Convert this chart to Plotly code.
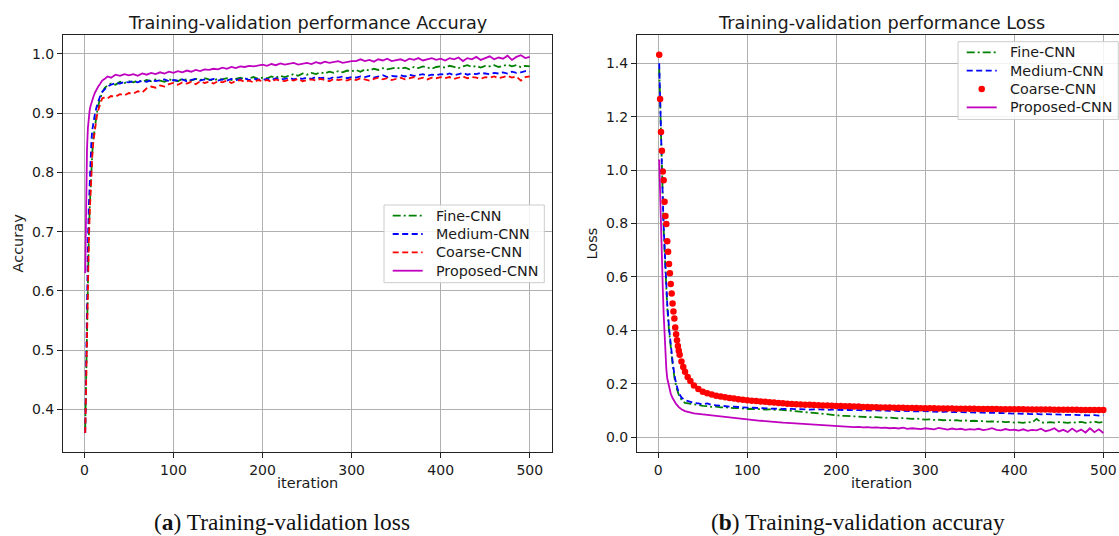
import plotly.graph_objects as go

W, H = 1119, 536

# ---------------- data ----------------
X_EARLY = [1, 2, 3, 4, 5, 6, 7, 8, 9, 10, 12, 14, 16, 18, 20, 23, 26, 30, 35, 40, 45, 50]
X_LATE = [55, 60, 65, 70, 75, 80, 85, 90, 95, 100,
          105, 110, 115, 120, 125, 130, 135, 140, 145, 150,
          155, 160, 165, 170, 175, 180, 185, 190, 195, 200,
          205, 210, 215, 220, 225, 230, 235, 240, 245, 250,
          255, 260, 265, 270, 275, 280, 285, 290, 295, 300,
          305, 310, 315, 320, 325, 330, 335, 340, 345, 350,
          355, 360, 365, 370, 375, 380, 385, 390, 395, 400,
          405, 410, 415, 420, 425, 430, 435, 440, 445, 450,
          455, 460, 465, 470, 475, 480, 485, 490, 495, 500]
ITER = X_EARLY + X_LATE
ITER_COARSE_LOSS = [1, 2, 3, 4, 5, 6, 7, 8, 9, 10, 11, 12, 13, 14, 15, 16, 17, 18, 19, 20,
                    21, 22, 23, 24, 26, 28, 30, 33, 36, 40, 45, 50] + X_LATE

# Accuracy (left panel)
ACC_FINE = [0.37, 0.47, 0.56, 0.63, 0.69, 0.74, 0.78, 0.81, 0.835, 0.855, 0.88, 0.90, 0.915,
            0.925, 0.935, 0.943, 0.947, 0.950, 0.948, 0.953, 0.951, 0.954] + [
    0.952, 0.955, 0.953, 0.956, 0.954, 0.957, 0.955, 0.953, 0.957, 0.956,
    0.954, 0.958, 0.956, 0.955, 0.958, 0.956, 0.959, 0.957, 0.955, 0.958,
    0.957, 0.959, 0.956, 0.958, 0.960, 0.957, 0.959, 0.961, 0.958, 0.960,
    0.959, 0.962, 0.960, 0.963, 0.961, 0.964, 0.966, 0.963, 0.967, 0.965,
    0.968, 0.966, 0.969, 0.967, 0.970, 0.968, 0.971, 0.969, 0.972, 0.971,
    0.973, 0.970, 0.974, 0.972, 0.975, 0.973, 0.976, 0.974, 0.975, 0.977,
    0.975, 0.977, 0.974, 0.978, 0.976, 0.979, 0.977, 0.975, 0.978, 0.979,
    0.977, 0.980, 0.978, 0.976, 0.979, 0.981, 0.978, 0.980, 0.977, 0.980,
    0.979, 0.981, 0.978, 0.980, 0.982, 0.979, 0.981, 0.978, 0.980, 0.979]
ACC_MEDIUM = [0.36, 0.50, 0.60, 0.68, 0.74, 0.79, 0.83, 0.855, 0.872, 0.885, 0.90, 0.912, 0.922,
              0.930, 0.936, 0.941, 0.945, 0.948, 0.951, 0.950, 0.953, 0.952] + [
    0.954, 0.952, 0.955, 0.953, 0.956, 0.954, 0.955, 0.957, 0.954, 0.956,
    0.955, 0.957, 0.954, 0.956, 0.958, 0.955, 0.957, 0.956, 0.958, 0.955,
    0.957, 0.955, 0.958, 0.956, 0.957, 0.959, 0.956, 0.958, 0.957, 0.956,
    0.958, 0.956, 0.959, 0.957, 0.958, 0.960, 0.957, 0.959, 0.958, 0.960,
    0.958, 0.961, 0.959, 0.960, 0.958, 0.961, 0.960, 0.962, 0.959, 0.961,
    0.960, 0.962, 0.961, 0.963, 0.960, 0.962, 0.964, 0.961, 0.963, 0.962,
    0.964, 0.962, 0.965, 0.963, 0.964, 0.966, 0.963, 0.965, 0.964, 0.966,
    0.965, 0.967, 0.964, 0.966, 0.968, 0.965, 0.967, 0.966, 0.968, 0.967,
    0.966, 0.968, 0.967, 0.969, 0.967, 0.970, 0.968, 0.969, 0.971, 0.970]
ACC_COARSE = [0.36, 0.45, 0.55, 0.62, 0.68, 0.73, 0.77, 0.80, 0.83, 0.85, 0.875, 0.895, 0.907,
              0.918, 0.925, 0.927, 0.925, 0.929, 0.928, 0.932, 0.930, 0.934] + [
    0.933, 0.937, 0.935, 0.942, 0.945, 0.943, 0.947, 0.945, 0.949, 0.951,
    0.948, 0.952, 0.950, 0.953, 0.949, 0.954, 0.951, 0.953, 0.950, 0.954,
    0.952, 0.955, 0.951, 0.954, 0.956, 0.953, 0.955, 0.952, 0.956, 0.954,
    0.956, 0.953, 0.957, 0.955, 0.954, 0.957, 0.955, 0.958, 0.954, 0.956,
    0.957, 0.955, 0.958, 0.956, 0.954, 0.958, 0.956, 0.957, 0.955, 0.958,
    0.956, 0.959, 0.957, 0.955, 0.958, 0.960, 0.957, 0.959, 0.956, 0.958,
    0.960, 0.957, 0.959, 0.961, 0.958, 0.960, 0.957, 0.960, 0.959, 0.961,
    0.959, 0.961, 0.958, 0.960, 0.962, 0.959, 0.961, 0.960, 0.958, 0.961,
    0.960, 0.962, 0.959, 0.961, 0.963, 0.960, 0.962, 0.955, 0.961, 0.962]
ACC_PROPOSED = [0.63, 0.77, 0.84, 0.875, 0.893, 0.905, 0.912, 0.918, 0.922, 0.927, 0.935, 0.941,
                0.946, 0.950, 0.955, 0.958, 0.962, 0.960, 0.965, 0.963, 0.966, 0.964] + [
    0.966, 0.963, 0.967, 0.965, 0.968, 0.966, 0.969, 0.967, 0.970, 0.968,
    0.971, 0.969, 0.972, 0.970, 0.973, 0.971, 0.974, 0.973, 0.975, 0.974,
    0.977, 0.975, 0.978, 0.976, 0.979, 0.978, 0.980, 0.979, 0.981, 0.982,
    0.980, 0.983, 0.981, 0.984, 0.982, 0.983, 0.985, 0.982, 0.984, 0.985,
    0.983, 0.986, 0.984, 0.987, 0.985, 0.986, 0.988, 0.985, 0.987, 0.988,
    0.988, 0.991, 0.988, 0.990, 0.987, 0.991, 0.989, 0.992, 0.988, 0.990,
    0.991, 0.988, 0.992, 0.990, 0.993, 0.989, 0.991, 0.993, 0.990, 0.992,
    0.989, 0.993, 0.991, 0.994, 0.988, 0.993, 0.991, 0.995, 0.990, 0.993,
    0.996, 0.991, 0.994, 0.992, 0.997, 0.990, 0.995, 0.998, 0.993, 0.995]

# Loss (right panel)
LOSS_FINE = [1.38, 1.24, 1.11, 0.99, 0.88, 0.78, 0.70, 0.62, 0.55, 0.49, 0.40, 0.33, 0.275,
             0.225, 0.19, 0.158, 0.14, 0.128, 0.125, 0.121, 0.119, 0.117] + [
    0.116, 0.113, 0.114, 0.111, 0.112, 0.110, 0.108, 0.109, 0.106, 0.105,
    0.106, 0.104, 0.105, 0.103, 0.104, 0.102, 0.103, 0.101, 0.100, 0.098,
    0.097, 0.095, 0.093, 0.092, 0.090, 0.088, 0.087, 0.085, 0.083, 0.081,
    0.080, 0.079, 0.078, 0.077, 0.076, 0.077, 0.075, 0.074, 0.075, 0.073,
    0.072, 0.073, 0.071, 0.070, 0.071, 0.069, 0.068, 0.069, 0.066, 0.065,
    0.066, 0.064, 0.065, 0.063, 0.064, 0.062, 0.063, 0.061, 0.062, 0.060,
    0.061, 0.059, 0.060, 0.058, 0.059, 0.057, 0.058, 0.056, 0.057, 0.054,
    0.055, 0.053, 0.056, 0.054, 0.068, 0.055, 0.053, 0.056, 0.054, 0.056,
    0.055, 0.053, 0.056, 0.054, 0.057, 0.053, 0.055, 0.058, 0.054, 0.056]
LOSS_MEDIUM = [1.40, 1.25, 1.12, 1.00, 0.89, 0.79, 0.71, 0.63, 0.56, 0.50, 0.41, 0.34, 0.285,
               0.235, 0.20, 0.165, 0.148, 0.138, 0.132, 0.128, 0.126, 0.122] + [
    0.126, 0.120, 0.119, 0.117, 0.116, 0.114, 0.114, 0.112, 0.111, 0.110,
    0.110, 0.109, 0.108, 0.108, 0.107, 0.106, 0.107, 0.105, 0.106, 0.105,
    0.104, 0.105, 0.104, 0.103, 0.104, 0.103, 0.103, 0.102, 0.103, 0.102,
    0.102, 0.101, 0.102, 0.100, 0.101, 0.100, 0.100, 0.099, 0.100, 0.099,
    0.099, 0.098, 0.099, 0.097, 0.098, 0.097, 0.097, 0.096, 0.097, 0.096,
    0.096, 0.095, 0.095, 0.094, 0.095, 0.093, 0.094, 0.093, 0.093, 0.092,
    0.092, 0.091, 0.092, 0.090, 0.091, 0.090, 0.090, 0.089, 0.089, 0.088,
    0.088, 0.087, 0.087, 0.086, 0.087, 0.085, 0.086, 0.085, 0.084, 0.084,
    0.084, 0.083, 0.083, 0.082, 0.083, 0.082, 0.081, 0.082, 0.080, 0.081]
LOSS_COARSE = [1.432, 1.266, 1.143, 1.072, 0.995, 0.962, 0.881, 0.828, 0.798, 0.733, 0.694, 0.648,
               0.614, 0.573, 0.538, 0.500, 0.470, 0.444, 0.410, 0.385, 0.363, 0.341, 0.323, 0.308,
               0.283, 0.262, 0.245, 0.225, 0.210, 0.193, 0.180, 0.170] + [
    0.164, 0.159, 0.155, 0.152, 0.149, 0.146, 0.144, 0.142, 0.140, 0.138,
    0.136, 0.135, 0.133, 0.132, 0.130, 0.129, 0.128, 0.127, 0.125, 0.124,
    0.123, 0.122, 0.121, 0.121, 0.120, 0.119, 0.118, 0.118, 0.117, 0.116,
    0.116, 0.115, 0.115, 0.114, 0.114, 0.113, 0.113, 0.112, 0.112, 0.111,
    0.111, 0.111, 0.110, 0.110, 0.110, 0.109, 0.109, 0.109, 0.108, 0.108,
    0.108, 0.108, 0.107, 0.107, 0.107, 0.107, 0.106, 0.106, 0.106, 0.106,
    0.106, 0.105, 0.105, 0.105, 0.105, 0.105, 0.104, 0.104, 0.104, 0.104,
    0.104, 0.104, 0.103, 0.103, 0.103, 0.103, 0.103, 0.103, 0.102, 0.102,
    0.102, 0.102, 0.102, 0.102, 0.101, 0.101, 0.101, 0.101, 0.101, 0.101]
LOSS_PROPOSED = [1.04, 0.90, 0.78, 0.67, 0.56, 0.46, 0.37, 0.30, 0.255, 0.22, 0.185, 0.162, 0.146,
                 0.134, 0.124, 0.112, 0.104, 0.097, 0.092, 0.089, 0.087, 0.085] + [
    0.083, 0.081, 0.080, 0.078, 0.077, 0.075, 0.073, 0.071, 0.068, 0.066,
    0.064, 0.063, 0.061, 0.060, 0.058, 0.057, 0.056, 0.054, 0.053, 0.052,
    0.050, 0.049, 0.047, 0.047, 0.045, 0.044, 0.043, 0.042, 0.041, 0.040,
    0.039, 0.040, 0.038, 0.037, 0.038, 0.036, 0.037, 0.035, 0.036, 0.034,
    0.035, 0.033, 0.034, 0.032, 0.035, 0.031, 0.033, 0.032, 0.030, 0.033,
    0.031, 0.029, 0.034, 0.030, 0.028, 0.032, 0.029, 0.031, 0.027, 0.030,
    0.028, 0.031, 0.026, 0.029, 0.033, 0.027, 0.025, 0.030, 0.026, 0.028,
    0.024, 0.029, 0.023, 0.027, 0.025, 0.031, 0.022, 0.026, 0.033, 0.021,
    0.027, 0.019, 0.032, 0.020, 0.028, 0.017, 0.033, 0.018, 0.029, 0.015]

for s in (ACC_FINE, ACC_MEDIUM, ACC_COARSE, ACC_PROPOSED, LOSS_FINE, LOSS_MEDIUM, LOSS_PROPOSED):
    assert len(s) == len(ITER), len(s)
assert len(LOSS_COARSE) == len(ITER_COARSE_LOSS)

NAMES = ["Fine-CNN", "Medium-CNN", "Coarse-CNN", "Proposed-CNN"]
X_TICKS = [0, 100, 200, 300, 400, 500]
ACC_TICKS = [0.4, 0.5, 0.6, 0.7, 0.8, 0.9, 1.0]
LOSS_TICKS = [0.0, 0.2, 0.4, 0.6, 0.8, 1.0, 1.2, 1.4]

# ---------------- styling ----------------
GREEN, BLUE, RED, MAGENTA = "#008000", "#0000ff", "#ff0000", "#bf00bf"
LW = 1.8
DASH = "6px,3.5px"
DASHDOT = "8px,3px,2px,3px"
FONT = "DejaVu Sans"
TXT = "#1a1a1a"
DOT_SIZE = 6.5


def px(x):
    return x / W


def py(y):
    return 1 - y / H


fig = go.Figure()

acc_specs = [(ACC_FINE, GREEN, DASHDOT), (ACC_MEDIUM, BLUE, DASH),
             (ACC_COARSE, RED, DASH), (ACC_PROPOSED, MAGENTA, "solid")]
for name, (vals, col, dash) in zip(NAMES, acc_specs):
    fig.add_trace(go.Scatter(x=ITER, y=vals, name=name, mode="lines",
                             line=dict(color=col, width=LW, dash=dash),
                             xaxis="x", yaxis="y", showlegend=False))

fig.add_trace(go.Scatter(x=ITER, y=LOSS_FINE, name=NAMES[0], mode="lines",
                         line=dict(color=GREEN, width=LW, dash=DASHDOT),
                         xaxis="x2", yaxis="y2", showlegend=False))
fig.add_trace(go.Scatter(x=ITER, y=LOSS_MEDIUM, name=NAMES[1], mode="lines",
                         line=dict(color=BLUE, width=LW, dash=DASH),
                         xaxis="x2", yaxis="y2", showlegend=False))
fig.add_trace(go.Scatter(x=ITER_COARSE_LOSS, y=LOSS_COARSE, name=NAMES[2], mode="markers",
                         marker=dict(color=RED, size=DOT_SIZE, line=dict(width=0)),
                         xaxis="x2", yaxis="y2", showlegend=False))
fig.add_trace(go.Scatter(x=ITER, y=LOSS_PROPOSED, name=NAMES[3], mode="lines",
                         line=dict(color=MAGENTA, width=LW),
                         xaxis="x2", yaxis="y2", showlegend=False))

axis_common = dict(showgrid=True, gridcolor="#b0b0b0", gridwidth=1, zeroline=False,
                   showline=True, linecolor="#222", linewidth=1, mirror=True,
                   ticks="outside", ticklen=5, tickwidth=1, tickcolor="#222",
                   tickfont=dict(family=FONT, size=14, color=TXT))

ydom = [py(452), py(35)]
fig.update_layout(
    width=W, height=H, autosize=False,
    margin=dict(l=0, r=0, t=0, b=0, pad=0),
    paper_bgcolor="white", plot_bgcolor="white",
    showlegend=False,
    xaxis=dict(domain=[px(63), px(552)], range=[-23.95, 524.95], tickvals=X_TICKS,
               anchor="y", **axis_common),
    yaxis=dict(domain=ydom, range=[0.328, 1.032], tickvals=ACC_TICKS, tickformat=".1f",
               anchor="x", **axis_common),
    xaxis2=dict(domain=[px(637), 1.0], range=[-23.95, 517.6], tickvals=X_TICKS,
                anchor="y2", **axis_common),
    yaxis2=dict(domain=ydom, range=[-0.056, 1.506], tickvals=LOSS_TICKS, tickformat=".1f",
                anchor="x2", **axis_common),
)

# ---------------- hand-drawn legends (matplotlib style) ----------------
shapes = []
LEG_W, LEG_H = 160.3, 77.7
ROW_OFF = [10.7, 29.0, 47.3, 65.7]


def add_legend(left, top, styles):
    shapes.append(dict(type="rect", xref="paper", yref="paper",
                       x0=px(left), x1=px(left + LEG_W), y0=py(top + LEG_H), y1=py(top),
                       line=dict(color="#cccccc", width=1),
                       fillcolor="rgba(255,255,255,0.85)", layer="above"))
    for name, off, (kind, col, dash) in zip(NAMES, ROW_OFF, styles):
        yc = top + off
        if kind == "line":
            shapes.append(dict(type="line", xref="paper", yref="paper",
                               x0=px(left + 8.7), x1=px(left + 38.7), y0=py(yc), y1=py(yc),
                               line=dict(color=col, width=LW, dash=dash), layer="above"))
        else:
            r = DOT_SIZE / 2
            cx = left + 23.7
            shapes.append(dict(type="circle", xref="paper", yref="paper",
                               x0=px(cx - r), x1=px(cx + r), y0=py(yc + r), y1=py(yc - r),
                               line=dict(width=0), fillcolor=col, layer="above"))
        fig.add_annotation(text=name, x=px(left + 50.3), y=py(yc), xref="paper", yref="paper",
                           xanchor="left", yanchor="middle", showarrow=False,
                           font=dict(family=FONT, size=14.3, color=TXT))


add_legend(384, 205, [("line", GREEN, DASHDOT), ("line", BLUE, DASH),
                      ("line", RED, DASH), ("line", MAGENTA, "solid")])
add_legend(958, 41.7, [("line", GREEN, DASHDOT), ("line", BLUE, DASH),
                       ("dot", RED, None), ("line", MAGENTA, "solid")])
fig.update_layout(shapes=shapes)

annots = [
    dict(text="Training-validation performance Accuray", x=px(307.5), y=py(23), size=17.7),
    dict(text="Training-validation performance Loss", x=px(881.5), y=py(23), size=17.7),
    dict(text="iteration", x=px(307.5), y=py(483), size=14.5),
    dict(text="iteration", x=px(881.5), y=py(483), size=14.5),
]
for a in annots:
    fig.add_annotation(text=a["text"], x=a["x"], y=a["y"], xref="paper", yref="paper",
                       xanchor="center", yanchor="middle", showarrow=False,
                       font=dict(family=FONT, size=a["size"], color=TXT))
fig.add_annotation(text="Accuray", x=px(17), y=py(243.5), xref="paper", yref="paper",
                   xanchor="center", yanchor="middle", showarrow=False, textangle=-90,
                   font=dict(family=FONT, size=14.5, color=TXT))
fig.add_annotation(text="Loss", x=px(591), y=py(243.5), xref="paper", yref="paper",
                   xanchor="center", yanchor="middle", showarrow=False, textangle=-90,
                   font=dict(family=FONT, size=14.5, color=TXT))
fig.add_annotation(text="(<b>a</b>) Training-validation loss", x=px(282), y=py(522),
                   xref="paper", yref="paper", xanchor="center", yanchor="middle",
                   showarrow=False, font=dict(family="Liberation Serif", size=23.4, color="#111"))
fig.add_annotation(text="(<b>b</b>) Training-validation accuray", x=px(858), y=py(522),
                   xref="paper", yref="paper", xanchor="center", yanchor="middle",
                   showarrow=False, font=dict(family="Liberation Serif", size=23.4, color="#111"))

fig.write_html("out.html")
